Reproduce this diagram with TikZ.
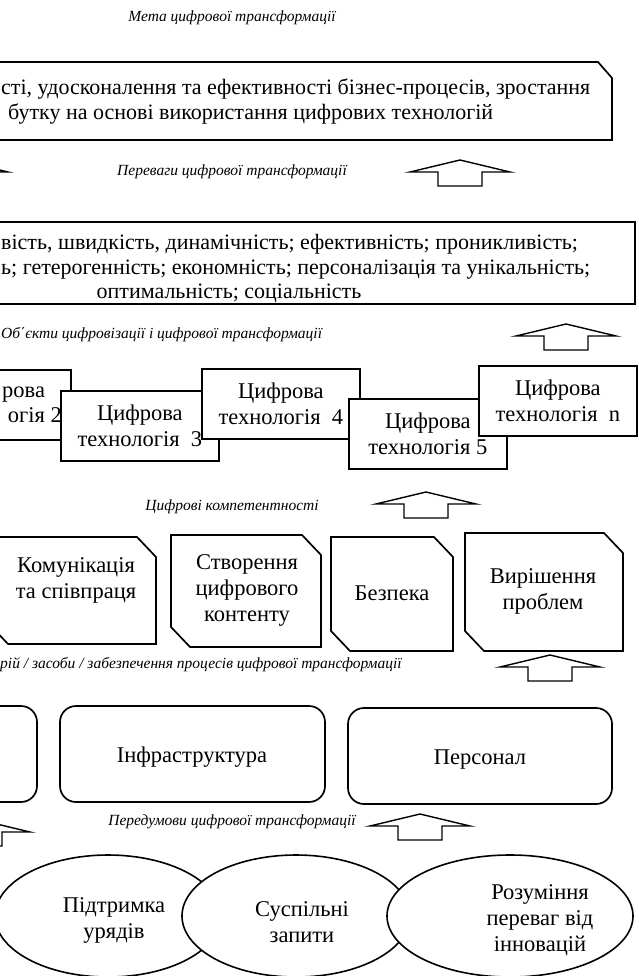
\documentclass[tikz,border=0pt]{standalone}
\usepackage{fontspec}
\setmainfont{Liberation Serif}
\newfontfamily\tnr{Liberation Serif}
\usetikzlibrary{shapes.geometric}
\tikzset{
  frame/.style={draw=black, line width=1.7pt, fill=white, line join=miter},
  body/.style={font=\tnr\fontsize{22.5}{26}\selectfont, align=center, inner sep=0pt},
  bodys/.style={font=\tnr\fontsize{22}{25}\selectfont, inner sep=0pt},
  lbl/.style={font=\tnr\fontsize{15.5}{18}\selectfont\itshape, inner sep=0pt},
  barrow/.style={draw=black, line width=1.4pt, fill=white, line join=miter},
  techbox/.style={frame, body, minimum width=158pt, minimum height=70pt},
  roundbox/.style={frame, rounded corners=16pt},
  ell/.style={draw=black, line width=1.6pt, fill=white, ellipse, inner sep=0pt},
}
% block arrow: centre x, tip y
\newcommand\blockarrow[2]{%
  \draw[barrow] (#1,#2) -- (#1+50,#2+12) -- (#1+22,#2+12) -- (#1+22,#2+26)
    -- (#1-22,#2+26) -- (#1-22,#2+12) -- (#1-50,#2+12) -- cycle;}
% chamfered box: left, top, right, bottom
\newcommand\chambox[4]{%
  \draw[frame] (#1,#2) -- (#3-19,#2) -- (#3,#2+20) -- (#3,#4) -- (#1+19,#4)
    -- (#1,#4-20) -- cycle;}
\begin{document}
\begin{tikzpicture}[x=1pt,y=-1pt]
\path[use as bounding box] (0,0) rectangle (639,976);
\clip (0,0) rectangle (639,976);
\fill[white] (0,0) rectangle (639,976);

% ---- goal
\node[lbl] (lgoal) at (232,18) {Мета цифрової трансформації};
\draw[frame] (-30,62) -- (598,62) -- (612,78) -- (612,140) -- (-30,140) -- cycle;
\node[bodys, anchor=base west] (goal1) at (1,95) {сті, удосконалення та ефективності бізнес-процесів, зростання};
\node[bodys, anchor=base west] (goal2) at (8,120) {бутку на основі використання цифрових технологій};

% ---- advantages
\node[lbl] (ladv) at (232,172) {Переваги цифрової трансформації};
\blockarrow{-42}{160}
\blockarrow{460}{160}
\draw[frame] (-30,222) rectangle (635,304);
\node[bodys, anchor=base west] (adv1) at (1,249) {вість, швидкість, динамічність; ефективність; проникливість;};
\node[bodys, anchor=base west] (adv2) at (1,274) {ь; гетерогенність; економність; персоналізація та унікальність;};
\node[bodys, anchor=base] (adv3) at (229,298) {оптимальність; соціальність};

% ---- objects
\node[lbl, anchor=west] (lobj) at (1,335) {Об΄єкти цифровізації і цифрової трансформації};
\blockarrow{566}{324}
\draw[frame] (-30,370) rectangle (71,440);
\node[body, anchor=base west] (t2a) at (2,397) {рова};
\node[body, anchor=base east] (t2b) at (62,422) {огія 2};
\node[techbox, anchor=north west] (t3) at (60,390) {Цифрова\\технологія\ \ 3};
\node[techbox, anchor=north west] (t4) at (201,368) {Цифрова\\технологія\ \ 4};
\node[techbox, anchor=north west] (t5) at (348,398) {Цифрова\\технологія 5};
\node[techbox, anchor=north west] (tn) at (478,365) {Цифрова\\технологія\ \ n};

% ---- competences
\node[lbl] (lcomp) at (232,507) {Цифрові компетентності};
\blockarrow{426}{492}
\chambox{-11}{537}{156}{644}
\node[body] (c1) at (76,580) {Комунікація\\та співпраця};
\chambox{171}{535}{321}{647}
\node[body] (c2) at (247,590) {Створення\\цифрового\\контенту};
\chambox{331}{537}{453}{651}
\node[body] (c3) at (392,593) {Безпека};
\chambox{465}{533}{623}{651}
\node[body] (c4) at (543,591) {Вирішення\\проблем};

% ---- tools
\node[lbl, anchor=base west] (ltool) at (0,668) {рій / засоби / забезпечення процесів цифрової трансформації};
\blockarrow{550}{655}
\draw[roundbox] (-60,706) rectangle (37,802);
\draw[roundbox] (60,706) rectangle (325,802);
\node[body] (infra) at (192,757) {Інфраструктура};
\draw[roundbox] (348,708) rectangle (612,804);
\node[body] (pers) at (480,760) {Персонал};

% ---- prerequisites
\node[lbl] (lpre) at (232,822) {Передумови цифрової трансформації};
\blockarrow{-20}{820}
\blockarrow{420}{814}
\node[ell, minimum width=226pt, minimum height=122pt] (e1) at (108,916) {};
\node[body] (e1t) at (114,920) {Підтримка\\урядів};
\node[ell, minimum width=228pt, minimum height=122pt] (e2) at (296,916) {};
\node[body] (e2t) at (302,922) {Суспільні\\запити};
\node[ell, minimum width=246pt, minimum height=122pt] (e3) at (510,916) {};
\node[body] (e3t) at (540,920) {Розуміння\\переваг від\\інновацій};
\end{tikzpicture}
\end{document}
